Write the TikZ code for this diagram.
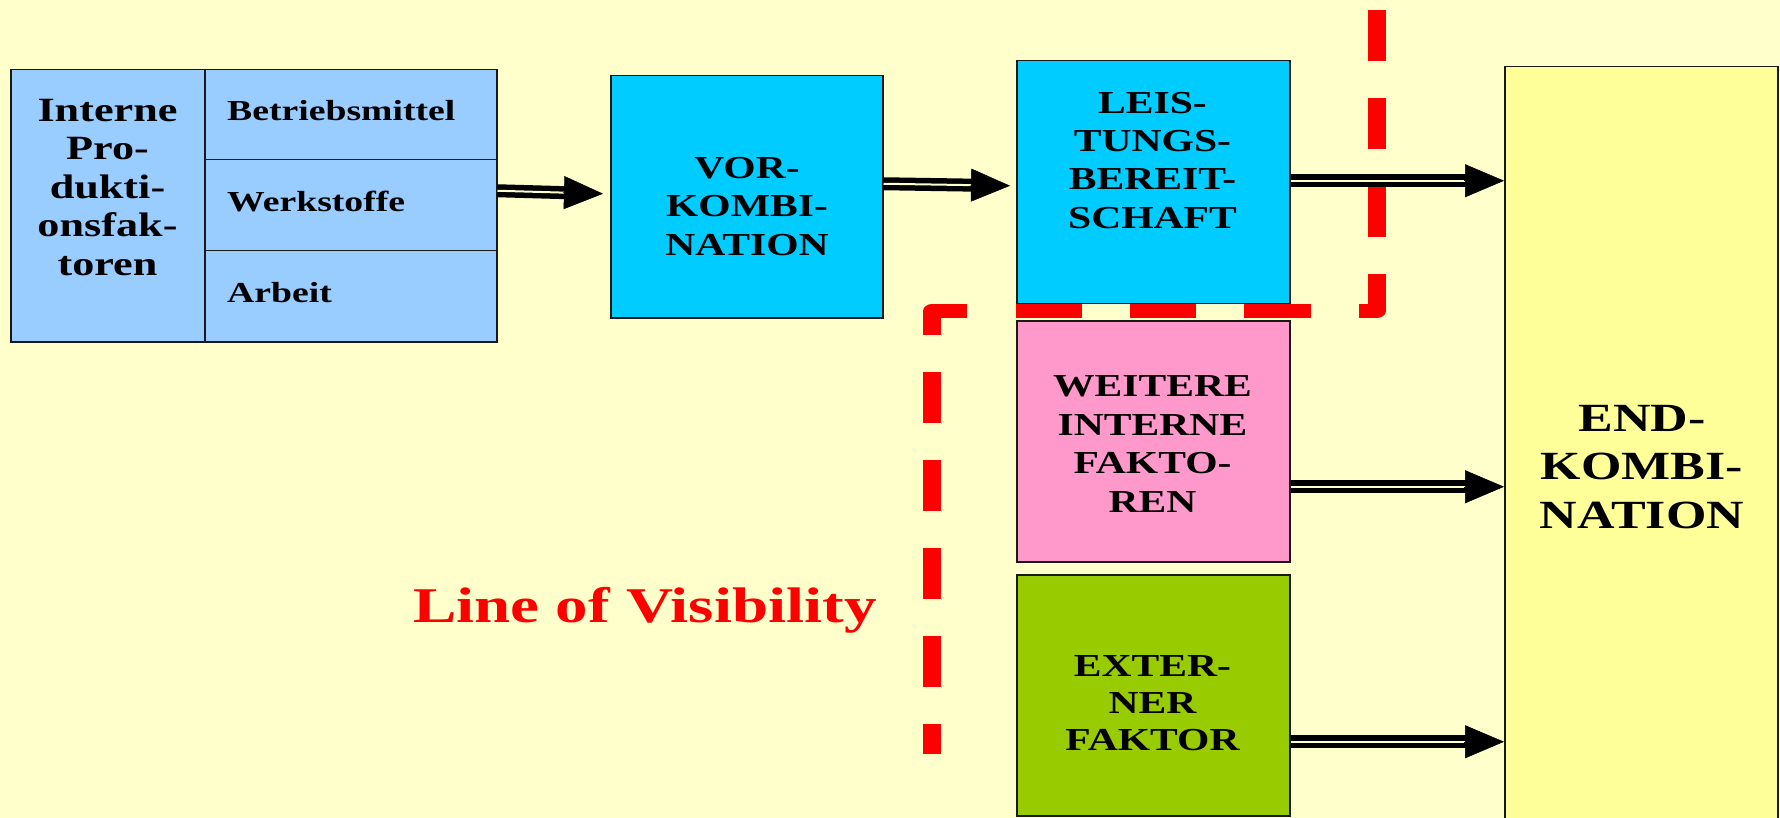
\documentclass[tikz,border=0pt]{standalone}
\usepackage{fontspec}
\newfontfamily\wfont[FakeStretch=1.3]{Liberation Serif}
\usetikzlibrary{arrows.meta,calc}
\definecolor{bgyellow}{HTML}{FFFFCC}
\definecolor{lblue}{HTML}{99CCFF}
\definecolor{cyanbox}{HTML}{00CCFF}
\definecolor{pinkbox}{HTML}{FF99CC}
\definecolor{greenbox}{HTML}{99CC00}
\definecolor{endyellow}{HTML}{FFFF99}
\definecolor{visred}{HTML}{FF0000}

% double-railed arrow with a solid triangular head
\newcommand\dblarrow[2]{%
  \draw[rail] (#1) -- ($(#2)!25pt!(#1)$);
  \draw[head] ($(#2)!40pt!(#1)$) -- (#2);}

\begin{document}
\begin{tikzpicture}[x=1pt,y=-1pt,
  box/.style={draw=black!90, line width=1.5pt, anchor=north west, inner sep=0pt},
  lbl/.style={anchor=north, inner sep=0pt, align=center,
    font=\wfont\bfseries\fontsize{32}{38.5}\selectfont},
  cellt/.style={anchor=base west, inner sep=0pt,
    font=\wfont\bfseries\fontsize{29}{34}\selectfont},
  rail/.style={line width=5.5pt, double=bgyellow, double distance=2pt},
  head/.style={line width=0.5pt, -{Triangle[length=39pt,width=33pt]}},
]
\useasboundingbox (0,0) rectangle (1780,818);
\clip (0,0) rectangle (1780,818);
\fill[bgyellow] (0,0) rectangle (1780,818);

% internal production factors
\node[box, fill=lblue, minimum width=194pt, minimum height=272pt] (ipf) at (10,69) {};
\node[box, fill=lblue, minimum width=292pt, minimum height=90pt] (bm) at (204,69) {};
\node[box, fill=lblue, minimum width=292pt, minimum height=91pt] (ws) at (204,159) {};
\node[box, fill=lblue, minimum width=292pt, minimum height=91pt] (ar) at (204,250) {};
\node[lbl, font=\wfont\bfseries\fontsize{34}{38.5}\selectfont] (ipft) at (107.5,99)
  {Interne\\Pro-\\dukti-\\onsfak-\\toren};
\node[cellt] (bmt) at (227,121) {Betriebsmittel};
\node[cellt] (wst) at (227,212) {Werkstoffe};
\node[cellt] (art) at (227,303) {Arbeit};

% combination stages
\node[box, fill=cyanbox, minimum width=272pt, minimum height=242pt] (vor) at (610,75) {};
\node[lbl] (vort) at (747,157) {VOR-\\KOMBI-\\NATION};

\node[box, fill=cyanbox, minimum width=273pt, minimum height=243pt] (leis) at (1016,60) {};
\node[lbl, font=\wfont\bfseries\fontsize{32}{38.3}\selectfont] (leist) at (1152.5,92)
  {LEIS-\\TUNGS-\\BEREIT-\\SCHAFT};

\node[box, fill=pinkbox, minimum width=273pt, minimum height=241pt] (wif) at (1016,320) {};
\node[lbl, font=\wfont\bfseries\fontsize{32}{38.9}\selectfont] (wift) at (1152.5,375)
  {WEITERE\\INTERNE\\FAKTO-\\REN};

\node[box, fill=greenbox, minimum width=273pt, minimum height=241pt] (ext) at (1016,574) {};
\node[lbl, font=\wfont\bfseries\fontsize{32}{37}\selectfont] (extt) at (1152.5,655)
  {EXTER-\\NER\\FAKTOR};

\node[box, fill=endyellow, minimum width=273pt, minimum height=800pt] (endk) at (1504,66) {};
\node[lbl, font=\wfont\bfseries\fontsize{40}{48.5}\selectfont] (endt) at (1642,405)
  {END-\\KOMBI-\\NATION};

% line of visibility
\begin{scope}[transform canvas={xscale=1.3}]
  \coordinate (v0) at (1059.2,10);
  \coordinate (v1) at (1059.2,311);
  \coordinate (v2) at (716.9,311);
  \coordinate (v3) at (716.9,754);
  \draw[visred, line width=13.5pt, dash pattern=on 51pt off 37pt, line join=round]
    (v0) -- (v1) -- (v2) -- (v3);
\end{scope}
\node[anchor=base west, inner sep=0pt, text=visred,
  font=\wfont\bfseries\fontsize{50}{60}\selectfont] (lov) at (413,622) {Line of Visibility};

% flows
\coordinate (a1s) at ([yshift=14.5pt]ws.east);
\coordinate (a1e) at ([xshift=-7pt,yshift=3pt]vor.west);
\coordinate (a2s) at ([yshift=13pt]vor.east);
\coordinate (a2e) at ([xshift=-6pt,yshift=-3.5pt]leis.west);
\coordinate (a3s) at ([yshift=1.5pt]leis.east);
\coordinate (a4s) at ([yshift=-45.5pt]wif.east);
\coordinate (a5s) at ([yshift=-46.5pt]ext.east);
\dblarrow{a1s}{a1e}
\dblarrow{a2s}{a2e}
\dblarrow{a3s}{endk.west |- a3s}
\dblarrow{a4s}{endk.west |- a4s}
\dblarrow{a5s}{endk.west |- a5s}
\end{tikzpicture}
\end{document}
